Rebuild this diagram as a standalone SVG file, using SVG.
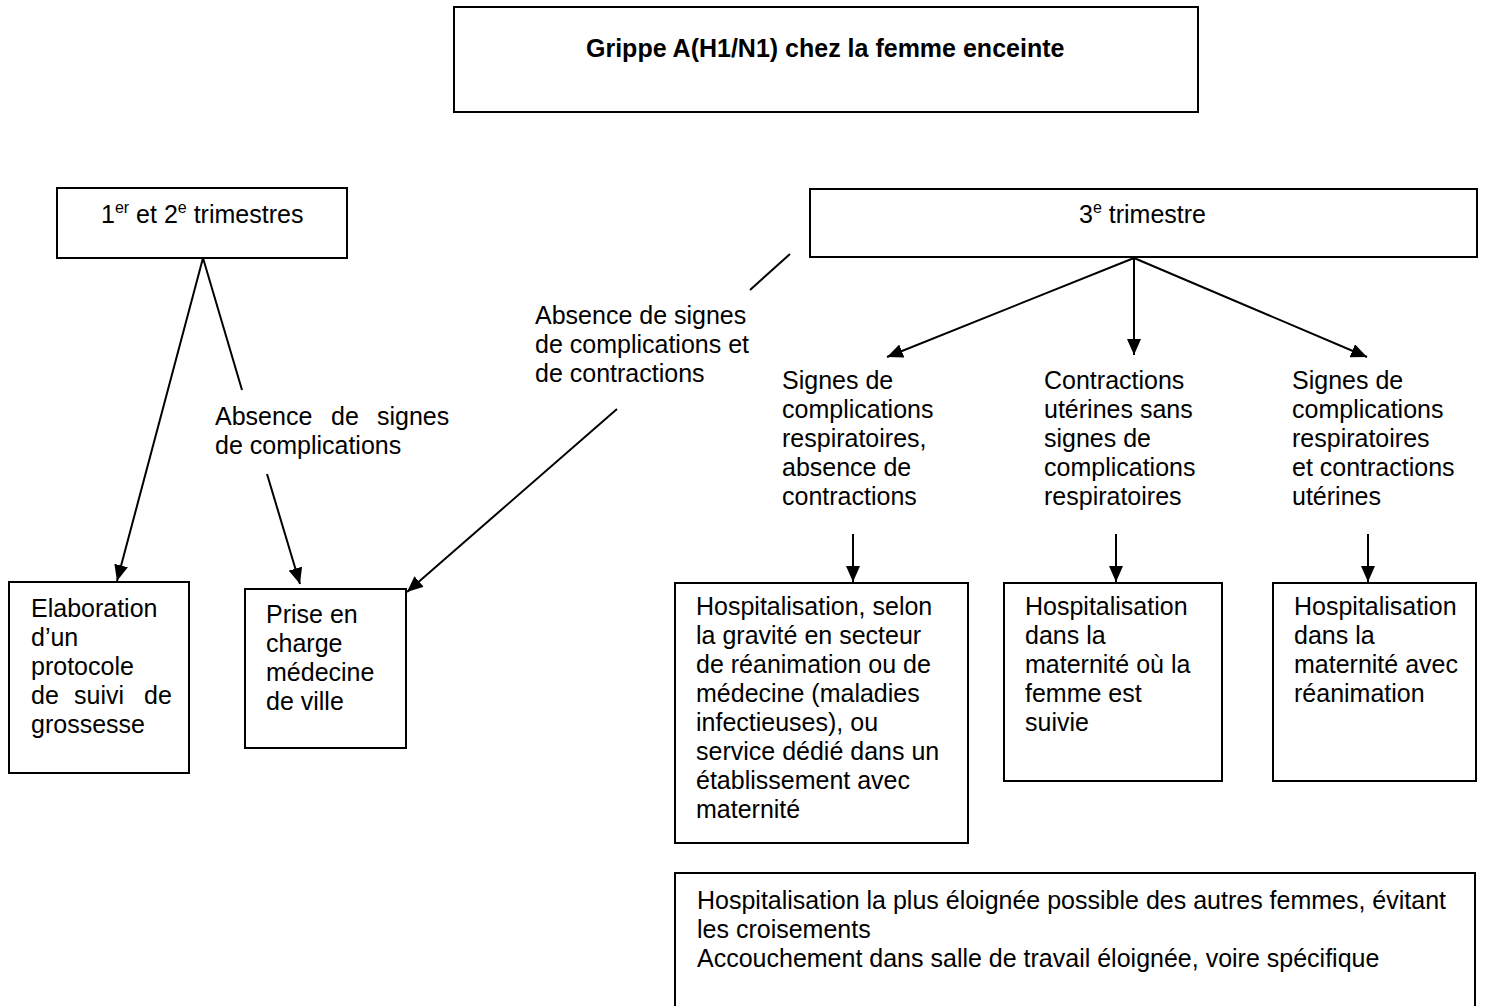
<svg xmlns="http://www.w3.org/2000/svg" width="1485" height="1006" viewBox="0 0 1485 1006">
<style>
  .box{fill:#fff;stroke:#000;stroke-width:2}
  .t{font-family:"Liberation Sans",Arial,sans-serif;font-size:25px;fill:#000}
  .b{font-weight:bold}
  .sup{font-size:16px}
  .ln{stroke:#000;stroke-width:2;fill:none}
</style>
<defs>
  <marker id="ah" markerUnits="userSpaceOnUse" markerWidth="18" markerHeight="14" refX="16" refY="7" orient="auto">
    <path d="M0,0 L16,7 L0,14 Z" fill="#000"/>
  </marker>
</defs>
<rect width="1485" height="1006" fill="#fff"/>

<g id="connectors">
  <line class="ln" x1="203" y1="258" x2="117" y2="581" marker-end="url(#ah)"/>
  <line class="ln" x1="203" y1="258" x2="242" y2="390"/>
  <line class="ln" x1="267" y1="474" x2="300" y2="584" marker-end="url(#ah)"/>
  <line class="ln" x1="790" y1="254" x2="750" y2="290"/>
  <line class="ln" x1="617" y1="409" x2="407" y2="592" marker-end="url(#ah)"/>
  <line class="ln" x1="1134" y1="258" x2="887" y2="357" marker-end="url(#ah)"/>
  <line class="ln" x1="1134" y1="258" x2="1134" y2="355" marker-end="url(#ah)"/>
  <line class="ln" x1="1134" y1="258" x2="1367" y2="357" marker-end="url(#ah)"/>
  <line class="ln" x1="853" y1="534" x2="853" y2="582" marker-end="url(#ah)"/>
  <line class="ln" x1="1116" y1="534" x2="1116" y2="582" marker-end="url(#ah)"/>
  <line class="ln" x1="1368" y1="534" x2="1368" y2="582" marker-end="url(#ah)"/>
</g>

<g id="title">
  <rect class="box" x="454" y="7" width="744" height="105"/>
  <text class="t b" x="586" y="57">Grippe A(H1/N1) chez la femme enceinte</text>
</g>

<g id="tri12">
  <rect class="box" x="57" y="188" width="290" height="70"/>
  <text class="t" x="101" y="223">1<tspan class="sup" dy="-10">er</tspan><tspan dy="10"> et 2</tspan><tspan class="sup" dy="-10">e</tspan><tspan dy="10"> trimestres</tspan></text>
</g>

<g id="tri3">
  <rect class="box" x="810" y="189" width="667" height="68"/>
  <text class="t" x="1079" y="223">3<tspan class="sup" dy="-10">e</tspan><tspan dy="10"> trimestre</tspan></text>
</g>

<g id="label-absence-signes">
  <text class="t" y="425"><tspan x="215">Absence</tspan><tspan x="331">de</tspan><tspan x="377">signes</tspan></text>
  <text class="t" x="215" y="454">de complications</text>
</g>

<g id="label-absence-contractions">
  <text class="t" x="535" y="324">Absence de signes</text>
  <text class="t" x="535" y="353">de complications et</text>
  <text class="t" x="535" y="382">de contractions</text>
</g>

<g id="label-resp">
  <text class="t" x="782" y="389">Signes de</text>
  <text class="t" x="782" y="418">complications</text>
  <text class="t" x="782" y="447">respiratoires,</text>
  <text class="t" x="782" y="476">absence de</text>
  <text class="t" x="782" y="505">contractions</text>
</g>

<g id="label-contractions">
  <text class="t" x="1044" y="389">Contractions</text>
  <text class="t" x="1044" y="418">utérines sans</text>
  <text class="t" x="1044" y="447">signes de</text>
  <text class="t" x="1044" y="476">complications</text>
  <text class="t" x="1044" y="505">respiratoires</text>
</g>

<g id="label-resp-contractions">
  <text class="t" x="1292" y="389">Signes de</text>
  <text class="t" x="1292" y="418">complications</text>
  <text class="t" x="1292" y="447">respiratoires</text>
  <text class="t" x="1292" y="476">et contractions</text>
  <text class="t" x="1292" y="505">utérines</text>
</g>

<g id="elaboration">
  <rect class="box" x="9" y="582" width="180" height="191"/>
  <text class="t" x="31" y="617">Elaboration</text>
  <text class="t" x="31" y="646">d’un</text>
  <text class="t" x="31" y="675">protocole</text>
  <text class="t" y="704"><tspan x="31">de</tspan><tspan x="74">suivi</tspan><tspan x="144">de</tspan></text>
  <text class="t" x="31" y="733">grossesse</text>
</g>

<g id="prise">
  <rect class="box" x="245" y="589" width="161" height="159"/>
  <text class="t" x="266" y="623">Prise en</text>
  <text class="t" x="266" y="652">charge</text>
  <text class="t" x="266" y="681">médecine</text>
  <text class="t" x="266" y="710">de ville</text>
</g>

<g id="hosp1">
  <rect class="box" x="675" y="583" width="293" height="260"/>
  <text class="t" x="696" y="615">Hospitalisation, selon</text>
  <text class="t" x="696" y="644">la gravité en secteur</text>
  <text class="t" x="696" y="673">de réanimation ou de</text>
  <text class="t" x="696" y="702">médecine (maladies</text>
  <text class="t" x="696" y="731">infectieuses), ou</text>
  <text class="t" x="696" y="760">service dédié dans un</text>
  <text class="t" x="696" y="789">établissement avec</text>
  <text class="t" x="696" y="818">maternité</text>
</g>

<g id="hosp2">
  <rect class="box" x="1004" y="583" width="218" height="198"/>
  <text class="t" x="1025" y="615">Hospitalisation</text>
  <text class="t" x="1025" y="644">dans la</text>
  <text class="t" x="1025" y="673">maternité où la</text>
  <text class="t" x="1025" y="702">femme est</text>
  <text class="t" x="1025" y="731">suivie</text>
</g>

<g id="hosp3">
  <rect class="box" x="1273" y="583" width="203" height="198"/>
  <text class="t" x="1294" y="615">Hospitalisation</text>
  <text class="t" x="1294" y="644">dans la</text>
  <text class="t" x="1294" y="673">maternité avec</text>
  <text class="t" x="1294" y="702">réanimation</text>
</g>

<g id="hosp-note">
  <rect class="box" x="675" y="873" width="800" height="140"/>
  <text class="t" x="697" y="909">Hospitalisation la plus éloignée possible des autres femmes, évitant</text>
  <text class="t" x="697" y="938">les croisements</text>
  <text class="t" x="697" y="967">Accouchement dans salle de travail éloignée, voire spécifique</text>
</g>
</svg>
